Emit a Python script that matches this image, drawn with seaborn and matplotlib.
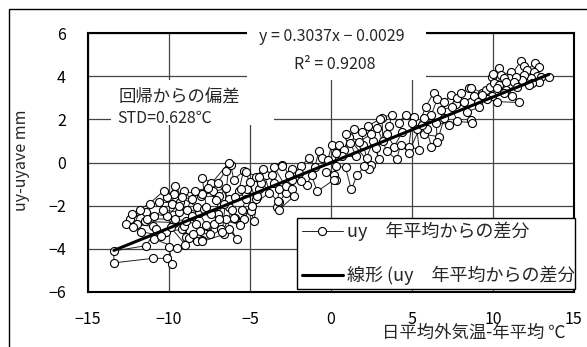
import numpy as np
import pandas as pd
import matplotlib
matplotlib.use("Agg")
import matplotlib.pyplot as plt
import seaborn as sns
from matplotlib.patches import Rectangle
from matplotlib.lines import Line2D

sns.set_theme(style="white")
plt.rcParams["font.family"] = ["Noto Sans CJK JP", "DejaVu Sans"]
plt.rcParams["axes.unicode_minus"] = True

# -------------------------
# data: (outdoor temp - annual mean, uy - uy mean), in day order
# -------------------------
jan_feb = [(-7.95, -1.48), (-9.1, -1.34), (-8.6, -1.71), (-9.7, -1.48), (-10.6, -1.85),
           (-9.3, -1.85), (-10.1, -2.5), (-11.4, -2.3), (-12.4, -2.64), (-12.65, -2.87),
           (-12.0, -2.87), (-11.0, -2.96), (-10.8, -3.1), (-11.4, -3.85), (-13.4, -4.1),
           (-13.4, -4.65), (-11.0, -4.44), (-10.1, -4.44), (-9.8, -4.7), (-10.0, -3.93),
           (-9.5, -3.95), (-10.9, -3.56), (-10.2, -3.2), (-9.2, -3.1), (-8.95, -3.47),
           (-8.3, -3.66), (-7.95, -3.6), (-8.75, -3.5), (-9.1, -2.96), (-9.7, -2.78),
           (-11.5, -2.73), (-11.35, -2.6), (-9.6, -2.64), (-8.95, -2.7), (-8.35, -2.87),
           (-8.1, -3.19), (-7.65, -2.96), (-7.7, -2.9), (-8.15, -2.32), (-9.8, -1.94),
           (-10.1, -1.62), (-9.6, -1.11), (-9.2, -1.62), (-8.25, -2.08), (-7.85, -2.17),
           (-7.7, -2.04)]
mar_may = [(-7.95, -0.72), (-7.4, -0.93), (-7.3, -1.34), (-8.0, -1.57), (-6.9, -1.57),
           (-7.2, -2.87), (-6.8, -3.1), (-7.95, -3.66), (-6.6, -3.33), (-6.3, -3.1),
           (-5.8, -3.56), (-6.5, -2.64), (-5.9, -2.55), (-6.3, -2.08), (-6.3, -1.71),
           (-7.0, -0.93), (-6.5, -0.4), (-6.2, -0.1), (-6.0, -0.79), (-5.4, -0.4),
           (-5.7, -1.34), (-5.25, -1.71), (-5.5, -2.18), (-4.95, -2.27), (-4.75, -2.73),
           (-4.55, -1.62), (-4.45, -1.25), (-4.65, -0.65), (-4.0, -0.56), (-3.65, -0.56),
           (-3.5, -0.93), (-3.2, -1.25), (-3.35, -2.04), (-3.2, -1.85), (-2.8, -1.39),
           (-2.4, -0.79), (-1.85, -0.18), (-1.35, 0.23), (-1.0, -0.2), (-0.75, 0.51),
           (-0.55, 0.23), (-0.2, 0.1), (0.05, 0.83), (0.5, 0.83), (0.8, 0.6),
           (1.1, 1.16), (0.7, 0.28), (1.55, 0.28), (1.2, 0.9), (1.4, 1.53),
           (1.9, 1.43), (2.0, 0.8), (2.2, 0.23), (2.6, 1.0), (2.95, 0.14),
           (2.8, 0.69), (3.2, 1.0), (3.15, 2.08), (3.75, 2.22), (3.6, 1.7),
           (3.45, 1.3), (3.9, 0.74), (4.4, 1.4), (4.2, 1.85), (4.6, 2.22),
           (5.1, 2.13), (5.0, 1.85), (4.8, 0.74), (5.45, 0.6)]
jun_aug = [(5.3, 1.53), (5.85, 2.59), (6.35, 3.24), (6.55, 2.92), (6.2, 2.22),
           (5.75, 1.3), (6.65, 1.2), (7.0, 2.08), (7.0, 2.78), (7.4, 3.15),
           (7.7, 2.69), (7.8, 3.0), (8.0, 3.2), (8.5, 3.47), (8.65, 3.47),
           (9.3, 3.24), (8.2, 2.82), (8.85, 3.06), (9.1, 2.8), (9.55, 3.38),
           (9.8, 3.5), (9.95, 3.98), (10.0, 4.1), (10.35, 4.4), (10.5, 4.05),
           (11.1, 4.2), (11.0, 3.9), (11.7, 4.68), (11.9, 4.45), (12.1, 4.3),
           (12.6, 4.6), (12.85, 4.44), (12.55, 4.2), (12.7, 4.0), (12.95, 3.98),
           (13.45, 3.98), (12.85, 3.75), (12.35, 3.93), (11.9, 4.05), (11.8, 3.84),
           (11.4, 3.98), (10.7, 3.93), (10.05, 3.7), (10.4, 3.6), (10.25, 3.47),
           (10.8, 3.75), (11.3, 3.75), (12.4, 3.7), (12.2, 3.6), (11.5, 3.52),
           (10.8, 3.38), (10.7, 3.24), (11.2, 3.06), (11.6, 2.78), (10.25, 2.82),
           (9.95, 3.06), (9.6, 2.92), (9.3, 3.15), (9.15, 2.55), (8.4, 2.36)]
sep_oct = [(8.65, 1.99), (8.7, 1.85), (7.8, 1.9), (7.45, 2.55), (6.8, 2.45),
           (7.3, 1.76), (6.5, 1.85), (6.55, 0.97), (6.2, 0.74), (5.9, 1.53),
           (5.6, 1.76), (5.75, 2.08), (4.8, 0.46), (4.3, 0.83), (4.05, 0.14),
           (3.45, 0.51), (2.85, 1.62), (3.0, 2.0), (2.3, 1.7), (2.45, 1.3),
           (1.75, 0.97), (0.9, 1.3), (2.45, -0.1), (2.35, -0.32), (2.05, -0.18),
           (1.6, -0.6), (1.25, -1.25), (0.9, -0.23), (0.3, -0.18), (0.3, 0.46),
           (0.2, -0.56), (0.3, -0.79), (-0.3, -0.46), (0.2, -0.79), (-0.85, -1.34),
           (-1.2, -0.6), (-1.5, -1.02), (-1.85, -0.88), (-2.0, -0.5), (-2.4, -0.32),
           (-2.6, -0.56), (-3.0, -0.1), (-3.0, -0.18), (-3.5, -0.23), (-2.8, -1.11),
           (-2.4, -1.25), (-2.3, -1.57), (-3.2, -2.18), (-3.3, -1.8), (-4.3, -0.93),
           (-4.45, -0.65), (-5.25, -0.46), (-4.65, -1.71), (-5.2, -1.25), (-5.55, -1.25),
           (-4.55, -1.57), (-5.4, -2.64), (-6.0, -2.55), (-6.1, -2.18), (-6.7, -3.24),
           (-6.3, 0.0), (-7.95, -1.48)]
nov_dec = [(-6.5, -1.2), (-7.1, -1.75), (-7.6, -1.2), (-8.4, -1.3), (-8.9, -2.2),
           (-9.4, -2.3), (-10.4, -2.2), (-10.9, -2.5), (-11.8, -2.2), (-12.2, -3.0),
           (-11.7, -3.2), (-10.5, -3.4), (-9.9, -3.0), (-9.0, -3.8), (-8.5, -3.3),
           (-7.5, -3.3), (-7.0, -2.4), (-6.6, -1.9), (-5.9, -1.6), (-5.0, -0.9),
           (-4.2, -0.3), (-3.8, -1.4), (-4.9, -2.0), (-5.6, -2.9), (-6.9, -2.6),
           (-7.4, -2.4), (-8.6, -2.5), (-9.4, -2.0), (-10.3, -1.3), (-11.2, -1.9),
           (-12.3, -2.4)]

slope, intercept = 0.3037, -0.0029
r2 = 0.9208
std_dev = 0.628

df = pd.DataFrame(jan_feb + mar_may + jun_aug + sep_oct + nov_dec, columns=["dT", "duy"])

# regression line over data range
x_fit = np.array([df["dT"].min(), df["dT"].max()])
fit = pd.DataFrame({"dT": x_fit, "duy": slope * x_fit + intercept})

# -------------------------
# figure
# -------------------------
fig = plt.figure(figsize=(5.87, 3.47), dpi=100)
fig.patch.set_facecolor("white")
ax = fig.add_axes([88 / 587, 55 / 347, 486 / 587, 259 / 347])

# outer chart frame (cut off at right/bottom like the original)
fig.patches.append(Rectangle((9 / 587, -0.2), 1.2, (338 / 347) + 0.2,
                             transform=fig.transFigure, fill=False, ec="black", lw=1))

sns.lineplot(data=df, x="dT", y="duy", sort=False, estimator=None, ax=ax,
             color="#222222", lw=0.7, marker="o", markersize=5.8,
             markerfacecolor="white", markeredgecolor="black",
             markeredgewidth=0.8, legend=False, zorder=2)
sns.lineplot(data=fit, x="dT", y="duy", sort=False, estimator=None, ax=ax,
             color="black", lw=2.2, legend=False, zorder=2.2)

ax.set_xlim(-15, 15)
ax.set_ylim(-6, 6)
ax.set_xticks(range(-15, 16, 5))
ax.set_yticks(range(-6, 7, 2))
ax.grid(True, color="#444444", lw=0.9)
ax.set_axisbelow(True)
for s in ax.spines.values():
    s.set_color("black")
    s.set_linewidth(1.5)
ax.tick_params(axis="x", length=0, pad=14, labelsize=11.5, colors="black")
ax.tick_params(axis="y", length=0, pad=16, labelsize=11.5, colors="black")
ax.set_xlabel("")
ax.set_ylabel("")

# annotation boxes (white backgrounds hiding grid)
ax.add_patch(Rectangle((-5.19, 3.84), 11.05, 2.5, fc="white", ec="none",
                       zorder=3, clip_on=False))
ax.text(0.06, 5.83, f"y = {slope:.4f}x − {abs(intercept):.4f}", ha="center", va="center",
        fontsize=11.5, zorder=4)
ax.text(0.25, 4.54, f"R² = {r2:.4f}", ha="center", va="center", fontsize=11.5, zorder=4)

ax.add_patch(Rectangle((-13.58, 1.76), 10.06, 2.08, fc="white", ec="none", zorder=3))
ax.text(-13.09, 3.06, "回帰からの偏差", ha="left", va="center", fontsize=12.5, zorder=4)
ax.text(-13.2, 2.04, f"STD={std_dev:.3f}℃", ha="left", va="center", fontsize=11.5, zorder=4)

# legend drawn by hand so the long label is clipped like the original
ax.add_patch(Rectangle((0.430, 0.0116), 0.572, 0.2744, transform=ax.transAxes,
                       fc="white", ec="black", lw=1, zorder=5, clip_on=False))
ax.add_line(Line2D([0.440, 0.525], [0.2355, 0.2355], transform=ax.transAxes,
                   color="#222222", lw=0.7, zorder=6))
ax.add_line(Line2D([0.4815], [0.2355], transform=ax.transAxes, marker="o",
                   markersize=5.8, markerfacecolor="white", markeredgecolor="black",
                   markeredgewidth=0.8, zorder=6))
ax.add_line(Line2D([0.440, 0.525], [0.0656, 0.0656], transform=ax.transAxes,
                   color="black", lw=2.2, zorder=6))
ax.text(0.533, 0.2355, "uy　年平均からの差分", transform=ax.transAxes,
        ha="left", va="center", fontsize=13, zorder=6)
ax.text(0.533, 0.0656, "線形 (uy　年平均からの差分)", transform=ax.transAxes,
        ha="left", va="center", fontsize=13, zorder=6, clip_on=True)

# axis titles
fig.text(22 / 587, 1 - 160 / 347, "uy-uyave mm", rotation=90, ha="center", va="center",
         fontsize=11.5)
fig.text(382 / 587, 1 - 333 / 347, "日平均外気温-年平均 ℃", ha="left", va="center",
         fontsize=12.5)

fig.savefig("out.png", dpi=100, facecolor="white")
